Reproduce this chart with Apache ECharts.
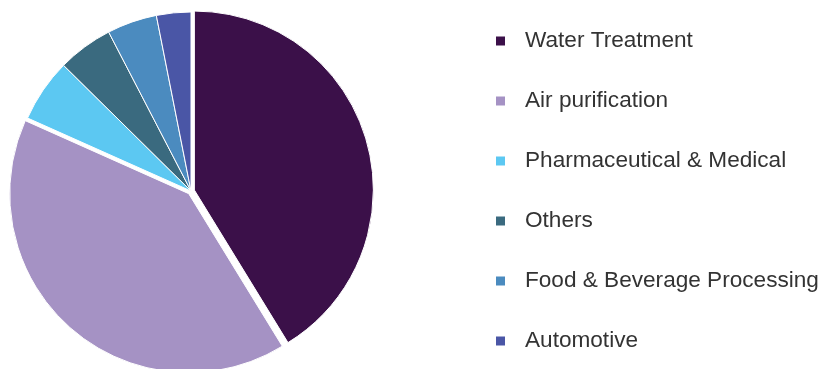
<!DOCTYPE html>
<html>
<head>
<meta charset="utf-8">
<script src="https://cdn.jsdelivr.net/npm/echarts@6/dist/echarts.min.js"></script>
<style>html,body{margin:0;padding:0;background:#fff;}#c{width:823px;height:369px;}</style>
</head>
<body>
<div id="c"></div>
<script>
const categories = ["Water Treatment", "Air purification", "Pharmaceutical & Medical", "Others", "Food & Beverage Processing", "Automotive"];
const shares = [41.2, 40.4, 5.7, 5.0, 4.5, 3.1];
const colors = ["#3b1049", "#a592c4", "#5cc8f2", "#3a6a7f", "#4b8bbf", "#4a56a6"];
const highlighted = [true, true, false, false, false, false];

const chart = echarts.init(document.getElementById('c'));
chart.setOption({
  animation: false,
  backgroundColor: '#fff',
  legend: {
    orient: 'vertical',
    left: 489,
    top: 23,
    itemWidth: 11,
    itemHeight: 11,
    itemGap: 34,
    icon: 'rect',
    selectedMode: false,
    textStyle: { fontFamily: 'Liberation Sans', fontSize: 22.6, color: '#333', padding: [0, 0, 0, 14], lineHeight: 26 },
    data: categories
  },
  series: [{
    type: 'pie',
    center: [191, 191],
    radius: [0, 179],
    startAngle: 90,
    clockwise: true,
    selectedMode: 'multiple',
    selectedOffset: 3.5,
    label: { show: false },
    labelLine: { show: false },
    itemStyle: { borderColor: '#fff', borderWidth: 1 },
    emphasis: { disabled: true },
    select: { itemStyle: { borderColor: '#fff', borderWidth: 1 } },
    data: categories.map((n, i) => ({ name: n, value: shares[i], selected: highlighted[i], itemStyle: { color: colors[i] } }))
  }]
});
</script>
</body>
</html>
